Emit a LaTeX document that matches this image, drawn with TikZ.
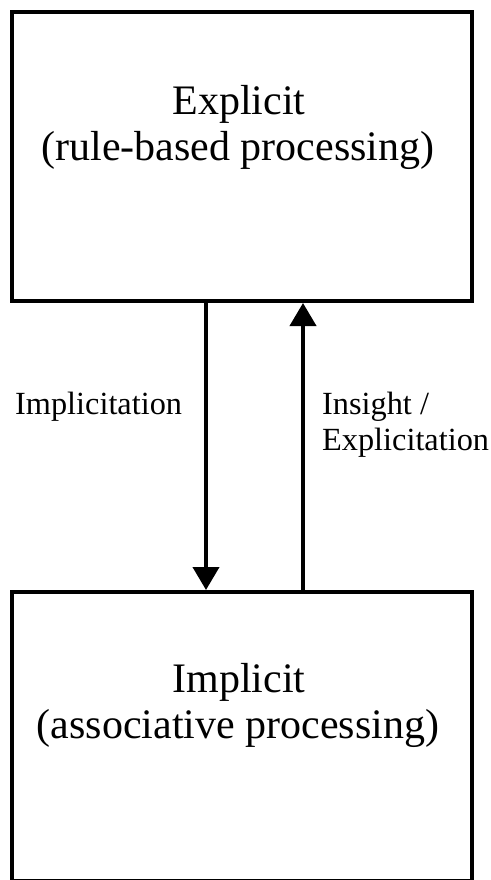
\documentclass[tikz,border=0pt]{standalone}
\usepackage{fontspec}
\setmainfont{Liberation Serif}
\usetikzlibrary{arrows.meta}
\begin{document}
\begin{tikzpicture}[x=1pt,y=-1pt,
  box/.style={draw=black,line width=4pt,minimum width=460pt,inner sep=0pt},
  big/.style={font=\fontsize{42}{47}\selectfont,inner sep=0pt,anchor=base},
  small/.style={font=\fontsize{32.3}{37}\selectfont,inner sep=0pt,anchor=base west},
  conn/.style={line width=4pt,-{Triangle[width=26pt,length=23pt]}}]
\useasboundingbox (0,0) rectangle (490,880);
\node[box,minimum height=289pt] (top) at (242,156.5) {};
\node[box,minimum height=289pt] (bot) at (242,736.5) {};
\node[big] (t1) at (239,114) {Explicit};
\node[big] (t2) at (238,160) {(rule-based processing)};
\node[big] (b1) at (239,692) {Implicit};
\node[big] (b2) at (238,738) {(associative processing)};
\node[small] (l1) at (15,414) {Implicitation};
\node[small] (r1) at (322,414) {Insight /};
\node[small] (r2) at (322,450) {Explicitation};
\draw[conn] (top.south -| 206,0) -- (bot.north -| 206,0);
\draw[conn] (bot.north -| 303,0) -- (top.south -| 303,0);
\end{tikzpicture}
\end{document}
